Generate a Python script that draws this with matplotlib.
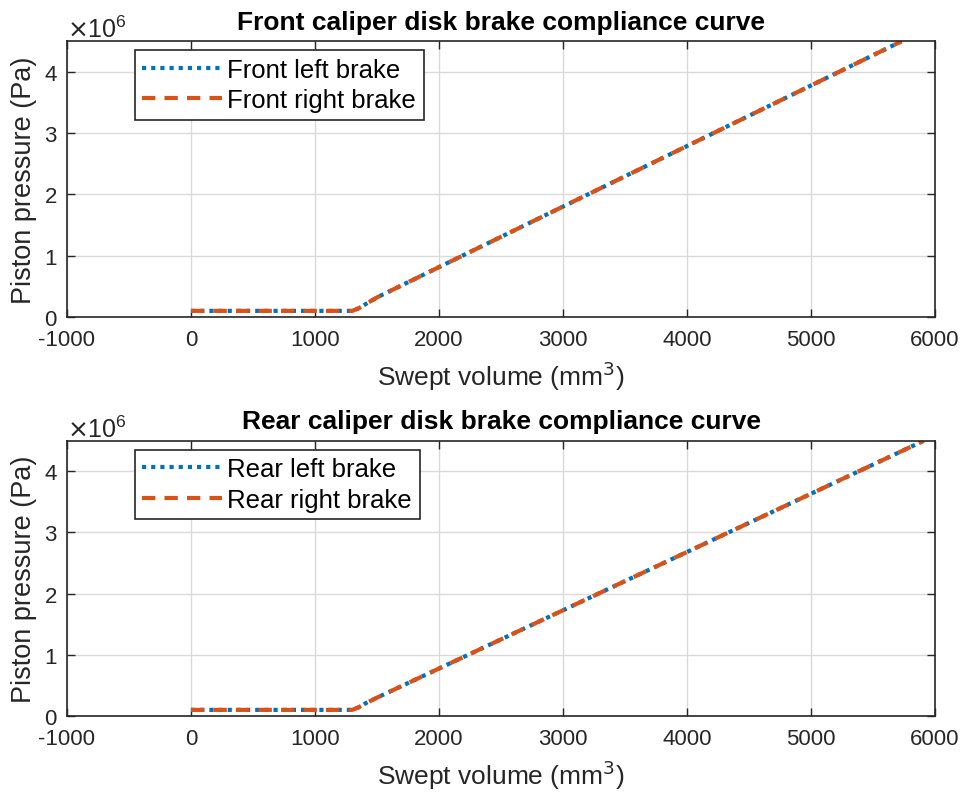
import matplotlib
matplotlib.use("Agg")
import matplotlib.pyplot as plt
import numpy as np

plt.rcParams['font.family'] = ['Liberation Sans', 'DejaVu Sans']
plt.rcParams['axes.unicode_minus'] = False

# Data (swept volume mm^3, pressure Pa)
front_left_x = [0, 1300, 1350, 1400, 1500, 5730]
front_left_y = [0.1e6, 0.1e6, 0.14e6, 0.2e6, 0.32e6, 4.5e6]
front_right_x = [0, 1300, 1350, 1400, 1500, 5730]
front_right_y = [0.1e6, 0.1e6, 0.14e6, 0.2e6, 0.32e6, 4.5e6]

rear_left_x = [0, 1300, 1350, 1400, 1500, 5910]
rear_left_y = [0.1e6, 0.1e6, 0.14e6, 0.2e6, 0.3e6, 4.5e6]
rear_right_x = [0, 1300, 1350, 1400, 1500, 5910]
rear_right_y = [0.1e6, 0.1e6, 0.14e6, 0.2e6, 0.3e6, 4.5e6]

x_ticks = [-1000, 0, 1000, 2000, 3000, 4000, 5000, 6000]
y_ticks = [0, 1e6, 2e6, 3e6, 4e6]

BLUE = (0, 0.447, 0.741)
ORANGE = (0.85, 0.325, 0.098)
AX_COL = '#262626'

fig = plt.figure(figsize=(9.66, 8.04), dpi=100)
W, H = 966, 804

def make_ax(top, bottom, left=67, right=935):
    return fig.add_axes([left / W, 1 - bottom / H, (right - left) / W, (bottom - top) / H])

panels = [
    (make_ax(42.3, 318), front_left_x, front_left_y, front_right_x, front_right_y,
     'Front left brake', 'Front right brake', 'Front caliper disk brake compliance curve'),
    (make_ax(441.7, 717), rear_left_x, rear_left_y, rear_right_x, rear_right_y,
     'Rear left brake', 'Rear right brake', 'Rear caliper disk brake compliance curve'),
]

for ax, lx, ly, rx, ry, ll, rl, title in panels:
    ax.plot(lx, ly, linestyle=(0, (1, 1.2)), color=BLUE, lw=3, label=ll)
    ax.plot(rx, ry, linestyle=(0, (3.2, 2.2)), color=ORANGE, lw=3, label=rl)
    ax.set_xlim(-1000, 6000)
    ax.set_ylim(0, 4.5e6)
    ax.set_xticks(x_ticks)
    ax.set_yticks(y_ticks)
    ax.ticklabel_format(axis='y', style='sci', scilimits=(6, 6), useMathText=True)
    off = ax.yaxis.get_offset_text()
    off.set_fontsize(18)
    off.set_color('#808080')
    ax.grid(True, color='#dadada', lw=1)
    ax.set_axisbelow(True)
    ax.tick_params(direction='in', top=True, right=True, length=6, width=1,
                   labelsize=16, colors=AX_COL)
    ax.tick_params(axis='x', pad=9)
    ax.tick_params(axis='y', pad=7)
    for s in ax.spines.values():
        s.set_color(AX_COL)
        s.set_linewidth(1.2)
    ax.set_xlabel('Swept volume (mm$^3$)', fontsize=19, color=AX_COL, labelpad=6)
    ax.set_ylabel('Piston pressure (Pa)', fontsize=19.5, color=AX_COL, labelpad=5)
    ax.set_title(title, fontsize=19, fontweight='bold', color='black', pad=9)
    leg = ax.legend(loc='upper left', bbox_to_anchor=(0.078, 0.968), fontsize=18.5,
                    fancybox=False, framealpha=1, edgecolor=AX_COL,
                    handlelength=3.1, handletextpad=0.2, borderpad=0.3,
                    labelspacing=0.25, borderaxespad=0)
    leg.get_frame().set_linewidth(1.2)

fig.savefig('out.png', dpi=100)
